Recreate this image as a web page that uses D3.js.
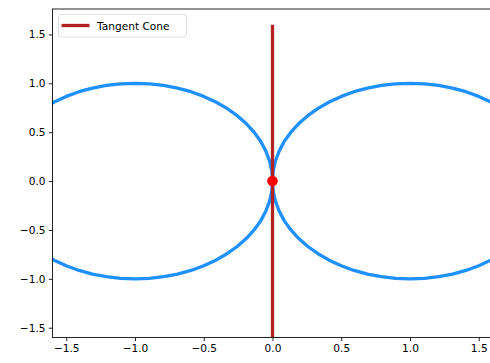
<!DOCTYPE html>
<html lang="en">
<head>
<meta charset="utf-8">
<title>Tangent cone</title>
<script src="https://cdn.jsdelivr.net/npm/d3@7"></script>
<style>
  body { margin: 0; background: #fff; }
  svg { display: block; }
  text { font-family: "DejaVu Sans", sans-serif; }
</style>
</head>
<body>
<script>
// data: two unit circles touching at the origin
var rightX = [2, 1.995, 1.978, 1.951, 1.914, 1.866, 1.809, 1.743, 1.669, 1.588, 1.5, 1.407, 1.309, 1.208, 1.105, 1,
              0.895, 0.792, 0.691, 0.593, 0.5, 0.412, 0.331, 0.257, 0.191, 0.134, 0.086, 0.049, 0.022, 0.005, 0,
              0.005, 0.022, 0.049, 0.086, 0.134, 0.191, 0.257, 0.331, 0.412, 0.5, 0.593, 0.691, 0.792, 0.895, 1,
              1.105, 1.208, 1.309, 1.407, 1.5, 1.588, 1.669, 1.743, 1.809, 1.866, 1.914, 1.951, 1.978, 1.995, 2];
var rightY = [0, 0.105, 0.208, 0.309, 0.407, 0.5, 0.588, 0.669, 0.743, 0.809, 0.866, 0.914, 0.951, 0.978, 0.995, 1,
              0.995, 0.978, 0.951, 0.914, 0.866, 0.809, 0.743, 0.669, 0.588, 0.5, 0.407, 0.309, 0.208, 0.105, 0,
              -0.105, -0.208, -0.309, -0.407, -0.5, -0.588, -0.669, -0.743, -0.809, -0.866, -0.914, -0.951, -0.978, -0.995, -1,
              -0.995, -0.978, -0.951, -0.914, -0.866, -0.809, -0.743, -0.669, -0.588, -0.5, -0.407, -0.309, -0.208, -0.105, 0];
var leftX  = [-2, -1.995, -1.978, -1.951, -1.914, -1.866, -1.809, -1.743, -1.669, -1.588, -1.5, -1.407, -1.309, -1.208, -1.105, -1,
              -0.895, -0.792, -0.691, -0.593, -0.5, -0.412, -0.331, -0.257, -0.191, -0.134, -0.086, -0.049, -0.022, -0.005, 0,
              -0.005, -0.022, -0.049, -0.086, -0.134, -0.191, -0.257, -0.331, -0.412, -0.5, -0.593, -0.691, -0.792, -0.895, -1,
              -1.105, -1.208, -1.309, -1.407, -1.5, -1.588, -1.669, -1.743, -1.809, -1.866, -1.914, -1.951, -1.978, -1.995, -2];
var leftY  = [0, 0.105, 0.208, 0.309, 0.407, 0.5, 0.588, 0.669, 0.743, 0.809, 0.866, 0.914, 0.951, 0.978, 0.995, 1,
              0.995, 0.978, 0.951, 0.914, 0.866, 0.809, 0.743, 0.669, 0.588, 0.5, 0.407, 0.309, 0.208, 0.105, 0,
              -0.105, -0.208, -0.309, -0.407, -0.5, -0.588, -0.669, -0.743, -0.809, -0.866, -0.914, -0.951, -0.978, -0.995, -1,
              -0.995, -0.978, -0.951, -0.914, -0.866, -0.809, -0.743, -0.669, -0.588, -0.5, -0.407, -0.309, -0.208, -0.105, 0];
var coneX = [0, 0];
var coneY = [-1.6, 1.6];
var pointX = [0];
var pointY = [0];
var xTicks = [-1.5, -1.0, -0.5, 0.0, 0.5, 1.0, 1.5];
var yTicks = [-1.5, -1.0, -0.5, 0.0, 0.5, 1.0, 1.5];
var legendLabel = "Tangent Cone";

var w = 490, h = 363;
var pLeft = 52.5, pRight = 492.5, pTop = 9, pBottom = 337.5;

var x = d3.scaleLinear().domain([-1.6, 1.6]).range([pLeft, pRight]);
var y = d3.scaleLinear().domain([-1.6, 1.76]).range([pBottom, pTop]);

var svg = d3.select("body").append("svg")
    .attr("width", w)
    .attr("height", h);

svg.append("clipPath").attr("id", "plot")
    .append("rect")
    .attr("x", pLeft).attr("y", pTop)
    .attr("width", pRight - pLeft).attr("height", pBottom - pTop);

var g = svg.append("g").attr("clip-path", "url(#plot)");

var line = d3.line()
    .x(function(d) { return x(d[0]); })
    .y(function(d) { return y(d[1]); });

var curves = [d3.zip(leftX, leftY), d3.zip(rightX, rightY)];
g.selectAll("path.curve")
    .data(curves)
    .enter()
    .append("path")
    .attr("class", "curve")
    .attr("d", line)
    .attr("fill", "none")
    .attr("stroke", "#1e90ff")
    .attr("stroke-width", 3.3)
    .attr("stroke-linejoin", "round")
    .attr("stroke-linecap", "round");

g.append("path")
    .attr("d", line(d3.zip(coneX, coneY)))
    .attr("fill", "none")
    .attr("stroke", "#b22222")
    .attr("stroke-width", 3.3);

g.selectAll("circle")
    .data(d3.zip(pointX, pointY))
    .enter()
    .append("circle")
    .attr("cx", function(d) { return x(d[0]); })
    .attr("cy", function(d) { return y(d[1]); })
    .attr("r", 5.3)
    .attr("fill", "red");

// axes
var fmt = function(d) { return d3.format(".1f")(d).replace("-", "\u2212").replace("\u22120.0", "0.0"); };

var xAxis = svg.append("g")
    .attr("transform", "translate(0," + pBottom + ")")
    .call(d3.axisBottom(x).tickValues(xTicks).tickFormat(fmt).tickSizeInner(3.7).tickSizeOuter(0).tickPadding(3.3));
var yAxis = svg.append("g")
    .attr("transform", "translate(" + pLeft + ",0)")
    .call(d3.axisLeft(y).tickValues(yTicks).tickFormat(fmt).tickSizeInner(3.7).tickSizeOuter(0).tickPadding(3.3));

[xAxis, yAxis].forEach(function(a) {
    a.select(".domain").remove();
    a.selectAll("line").attr("stroke", "#000").attr("stroke-width", 0.85);
    a.selectAll("text").attr("font-size", 10.6).attr("fill", "#000")
        .attr("font-family", "DejaVu Sans, sans-serif");
});

// spines
svg.append("rect")
    .attr("x", pLeft).attr("y", pTop)
    .attr("width", pRight - pLeft).attr("height", pBottom - pTop)
    .attr("fill", "none")
    .attr("stroke", "#000")
    .attr("stroke-width", 0.85);

// legend
var lg = svg.append("g");
lg.append("rect")
    .attr("x", 58.5).attr("y", 14.5)
    .attr("width", 128).attr("height", 22.5)
    .attr("rx", 2.5)
    .attr("fill", "#fff").attr("fill-opacity", 0.8)
    .attr("stroke", "#d5d5d5").attr("stroke-width", 0.8);
lg.append("line")
    .attr("x1", 61.5).attr("x2", 89.5)
    .attr("y1", 25.5).attr("y2", 25.5)
    .attr("stroke", "#b22222").attr("stroke-width", 3.3);
lg.append("text")
    .attr("x", 97).attr("y", 29.5)
    .attr("font-size", 10.6)
    .attr("fill", "#000")
    .text(legendLabel);
</script>
</body>
</html>
